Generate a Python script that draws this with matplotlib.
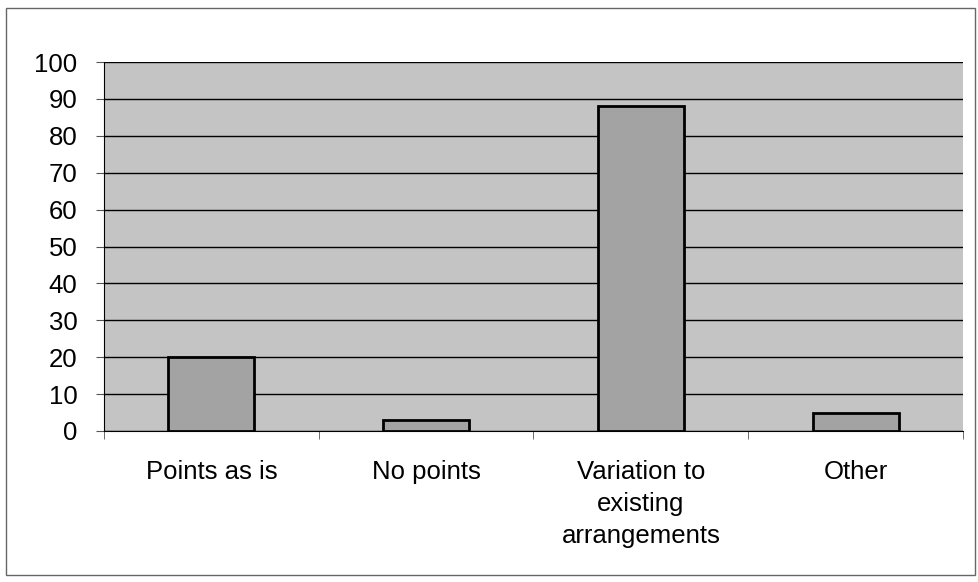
import numpy as np
import matplotlib.pyplot as plt
from matplotlib.patches import Rectangle

categories = ['Points as is', 'No points', 'Variation to\nexisting\narrangements', 'Other']
values = [20, 3, 88, 5]

plt.rcParams['font.family'] = ['Liberation Sans', 'DejaVu Sans']

fig = plt.figure(figsize=(9.79, 5.82), dpi=100)
ax = fig.add_axes([104/979, 1-431/582, (963-104)/979, (431-62)/582])
ax.set_facecolor('#c4c4c4')

x = np.arange(len(categories))
ax.bar(x, values, width=0.4, color='#a3a3a3', edgecolor='black', linewidth=2, zorder=3)

ax.set_xlim(-0.5, len(categories) - 0.5)
ax.set_ylim(0, 100)
ax.set_yticks(range(0, 101, 10))
ax.yaxis.grid(True, color='black', linewidth=1, zorder=1)
ax.set_axisbelow(True)

ax.set_xticks(x)
ax.set_xticklabels(categories, fontsize=18.5, linespacing=1.42, va='top')
ax.tick_params(axis='x', length=0, pad=21)
ax.set_xticks(np.arange(-0.5, len(categories)), minor=True)
ax.tick_params(axis='x', which='minor', length=6, direction='out', color='#555555')
ax.tick_params(axis='y', labelsize=18.5, length=6, direction='out', color='#555555', pad=13)

for s in ['top', 'right']:
    ax.spines[s].set_visible(False)
ax.spines['left'].set_color('black')
ax.spines['bottom'].set_color('black')

fig.patches.append(Rectangle((6/979, 1-575/582), 969/979, 567/582, transform=fig.transFigure,
                             fill=False, edgecolor='#666666', linewidth=1))

fig.savefig('out.png', dpi=100)
